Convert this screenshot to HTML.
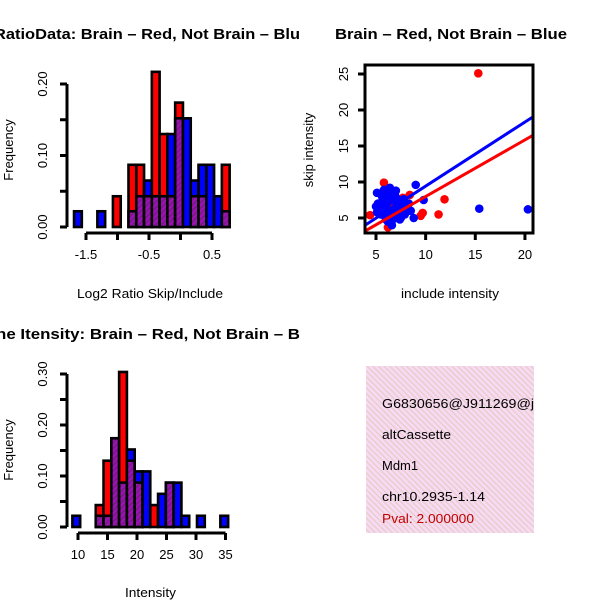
<!DOCTYPE html>
<html><head><meta charset="utf-8"><style>
body{margin:0;background:#fff}
svg{display:block;font-family:"Liberation Sans",sans-serif}
</style></head><body>
<svg id="svg" width="600" height="600" viewBox="0 0 600 600">
<defs>
<pattern id="purp" patternUnits="userSpaceOnUse" width="4" height="4" patternTransform="rotate(45)">
<rect width="4" height="4" fill="#a010b8"/><rect width="2" height="4" fill="#7a1a8a"/></pattern>
<pattern id="pink" patternUnits="userSpaceOnUse" width="4" height="4" patternTransform="rotate(-45)">
<rect width="4" height="4" fill="#fbd8f4"/><rect width="1.3" height="4" fill="#e0d0c8"/></pattern>
</defs>
<g id="h1"></g>
<g id="h2"></g>
<g id="sc"></g>
<text x="-6" y="39" textLength="306" lengthAdjust="spacingAndGlyphs" font-size="15" font-weight="bold">RatioData: Brain – Red, Not Brain – Blu</text>
<text x="-4" y="339" textLength="304" lengthAdjust="spacingAndGlyphs" font-size="15" font-weight="bold">ne Itensity: Brain – Red, Not Brain – B</text>
<text x="335" y="39" textLength="232" lengthAdjust="spacingAndGlyphs" font-size="15" font-weight="bold">Brain – Red, Not Brain – Blue</text>
<text x="77" y="298" textLength="146" lengthAdjust="spacingAndGlyphs" font-size="13">Log2 Ratio Skip/Include</text>
<text x="125" y="597" textLength="51" lengthAdjust="spacingAndGlyphs" font-size="13">Intensity</text>
<text x="401" y="298" textLength="98" lengthAdjust="spacingAndGlyphs" font-size="13">include intensity</text>
<text transform="translate(13,150) rotate(-90)" text-anchor="middle" font-size="13">Frequency</text>
<text transform="translate(13,450) rotate(-90)" text-anchor="middle" font-size="13">Frequency</text>
<text transform="translate(313,150) rotate(-90)" text-anchor="middle" font-size="13">skip intensity</text>
<g>
<clipPath id="pc"><rect x="366" y="366" width="168" height="167"/></clipPath>
<rect x="366" y="366" width="168" height="167" fill="url(#pink)"/>
<g clip-path="url(#pc)" font-size="13">
<text x="382" y="408" textLength="160" lengthAdjust="spacingAndGlyphs">G6830656@J911269@j_</text>
<text x="382" y="439" textLength="69" lengthAdjust="spacingAndGlyphs">altCassette</text>
<text x="382" y="470">Mdm1</text>
<text x="382" y="501" textLength="103" lengthAdjust="spacingAndGlyphs">chr10.2935-1.14</text>
<text x="382" y="523" textLength="92" lengthAdjust="spacingAndGlyphs" fill="#c00000">Pval: 2.000000</text>
</g></g>
</svg>
<script>
const NS="http://www.w3.org/2000/svg";
// histogram 1 data
const h1Start=-1.69, h1Width=0.1235;
const h1Red=[0,0,0,0,0,0.043,0,0.087,0.087,0.043,0.217,0.13,0.043,0.174,0,0.043,0.043,0,0,0.087];
const h1Blue=[0.022,0,0,0.022,0,0,0,0.022,0.043,0.065,0.043,0.043,0.13,0.152,0.152,0.065,0.087,0.087,0.043,0.022];
const h1XTicks=[-1.5,-1,-0.5,0,0.5];
const h1XLabels=["-1.5","","-0.5","","0.5"];
const h1YTicks=[0,0.05,0.1,0.15,0.2];
const h1YLabels=["0.00","","0.10","","0.20"];
// histogram 2 data
const h2Start=9.05, h2Width=1.32;
const h2Red=[0,0,0,0.043,0.13,0.174,0.304,0.13,0.087,0,0.043,0,0.087,0,0,0,0,0,0,0];
const h2Blue=[0.022,0,0,0.022,0.022,0.174,0.087,0.152,0.109,0.109,0,0.065,0.087,0.087,0.022,0,0.022,0,0,0.022];
const h2XTicks=[10,15,20,25,30,35];
const h2XLabels=["10","15","20","25","30","35"];
const h2YTicks=[0,0.05,0.1,0.15,0.2,0.25,0.3];
const h2YLabels=["0.00","","0.10","","0.20","","0.30"];
// scatter data
const redX=[15.3,9.7,11.9,11.3,5.8,4.4,7.7,8.4,9.5,6.2,7.2,6.8,5.5,7.9,6.5];
const redY=[25.1,5.7,7.6,5.5,9.9,5.4,7.8,8.2,5.3,3.7,6.2,5.0,6.0,6.6,7.0];
const blueX=[15.4,20.3,9.0,9.8,5.1,6.4,7.0,5.0,5.5,6.0,6.5,7.5,8.0,5.8,6.2,6.8,7.2,5.3,6.0,7.8,8.8,6.3,5.6,7.0,8.3,6.6,5.9,7.4,
  5.2,5.7,6.1,6.6,7.1,7.6,5.4,5.9,6.4,6.9,7.3,5.6,6.2,6.7,5.1,6.0,6.5,7.0,7.9,6.3,5.8,6.9,8.5,5.5,6.8,7.4,6.1];
const blueY=[6.3,6.2,9.6,7.5,8.5,9.2,8.8,6.6,5.5,6.8,6.0,5.0,6.2,7.3,4.5,7.5,6.9,6.2,5.2,7.6,5.0,8.2,8.0,5.8,7.0,4.0,6.3,4.8,
  7.0,7.8,8.6,8.4,7.7,7.0,6.0,5.6,5.3,6.4,6.6,6.9,7.2,5.8,5.8,4.8,4.6,5.4,5.5,9.0,8.9,8.3,6.0,6.5,4.9,6.0,6.1];
const blueSlope=0.89, blueInt=0.53, redSlope=0.786, redInt=0.13;
const scXTicks=[5,10,15,20], scYTicks=[5,10,15,20,25];

function el(p,tag,a){const e=document.createElementNS(NS,tag);for(const k in a)e.setAttribute(k,a[k]);p.appendChild(e);return e;}

function hist(g,name,start,w,red,blue,xs,xT,xL,yT,yL,x0,xa,yBase,yk){
  const X=v=>x0+(v-xa)*xs, Y=v=>yBase-v*yk;
  red.forEach((r,i)=>{
    const b=blue[i];const lo=Math.min(r,b),hi=Math.max(r,b);
    const xl=X(start+i*w),xr=X(start+(i+1)*w);
    if(hi>0){const rc=el(g,'rect',{x:xl,y:Y(hi),width:xr-xl,height:Y(0)-Y(hi),fill:r>=b?'#ff0000':'#0000ff',stroke:'#000','stroke-width':2.6});
      
      }
    if(lo>0){const pc=el(g,'rect',{x:xl,y:Y(lo),width:xr-xl,height:Y(0)-Y(lo),fill:'url(#purp)',stroke:'#000','stroke-width':2.6});
      
      }
  });
  const ax=el(g,'g',{});
  
  
  const ya=Y(0)+6;
  el(ax,'line',{x1:X(xT[0]),x2:X(xT[xT.length-1]),y1:ya,y2:ya,stroke:'#000','stroke-width':3});
  xT.forEach((t,i)=>{el(ax,'line',{x1:X(t),x2:X(t),y1:ya,y2:ya+7,stroke:'#000','stroke-width':3});
    if(xL[i]){const tx=el(ax,'text',{x:X(t),y:ya+26,'text-anchor':'middle','font-size':13});tx.textContent=xL[i];}});
  const ay=el(g,'g',{});
  
  
  const xa2=67;
  el(ay,'line',{x1:xa2,x2:xa2,y1:Y(0),y2:Y(yT[yT.length-1]),stroke:'#000','stroke-width':3});
  yT.forEach((t,i)=>{el(ay,'line',{x1:xa2-7,x2:xa2,y1:Y(t),y2:Y(t),stroke:'#000','stroke-width':3});
    if(yL[i]){const tx=el(ay,'text',{transform:`translate(47,${Y(t)}) rotate(-90)`,'text-anchor':'middle','font-size':13});tx.textContent=yL[i];}});
}
hist(document.getElementById('h1'),'ratio',h1Start,h1Width,h1Red,h1Blue,63,h1XTicks,h1XLabels,h1YTicks,h1YLabels,149,-0.5,227,715);
hist(document.getElementById('h2'),'intensity',h2Start,h2Width,h2Red,h2Blue,5.9,h2XTicks,h2XLabels,h2YTicks,h2YLabels,78,10,527,510);

// scatter
(function(){
  const g=document.getElementById('sc');
  const X=v=>376+(v-5)*9.93, Y=v=>218-(v-5)*7.2;
  const x0=365,x1=533,y0=65,y1=233;
  const clip=el(g,'clipPath',{id:'scc'});el(clip,'rect',{x:x0,y:y0,width:x1-x0,height:y1-y0});
  const pts=el(g,'g',{'clip-path':'url(#scc)'});
  redX.forEach((v,i)=>{const c=el(pts,'circle',{cx:X(v),cy:Y(redY[i]),r:4.3,fill:'#ff0000'});
    
    });
  blueX.forEach((v,i)=>{const c=el(pts,'circle',{cx:X(v),cy:Y(blueY[i]),r:4.3,fill:'#0000ff'});
    
    });
  const xa=(x0-376)/9.93+5, xb=(x1-376)/9.93+5;
  const bl=el(pts,'line',{x1:X(xa),y1:Y(blueSlope*xa+blueInt),x2:X(xb),y2:Y(blueSlope*xb+blueInt),stroke:'#0000ff','stroke-width':3});
  
  
  const rl=el(pts,'line',{x1:X(xa),y1:Y(redSlope*xa+redInt),x2:X(xb),y2:Y(redSlope*xb+redInt),stroke:'#ff0000','stroke-width':3});
  
  
  el(g,'rect',{x:x0,y:y0,width:x1-x0,height:y1-y0,fill:'none',stroke:'#000','stroke-width':3});
  scXTicks.forEach(t=>{el(g,'line',{x1:X(t),x2:X(t),y1:y1,y2:y1+7,stroke:'#000','stroke-width':3});
    const tx=el(g,'text',{x:X(t),y:y1+26,'text-anchor':'middle','font-size':13});tx.textContent=t;});
  scYTicks.forEach(t=>{el(g,'line',{x1:x0-7,x2:x0,y1:Y(t),y2:Y(t),stroke:'#000','stroke-width':3});
    const tx=el(g,'text',{transform:`translate(348,${Y(t)}) rotate(-90)`,'text-anchor':'middle','font-size':13});tx.textContent=t;});
})();
</script>
</body></html>
